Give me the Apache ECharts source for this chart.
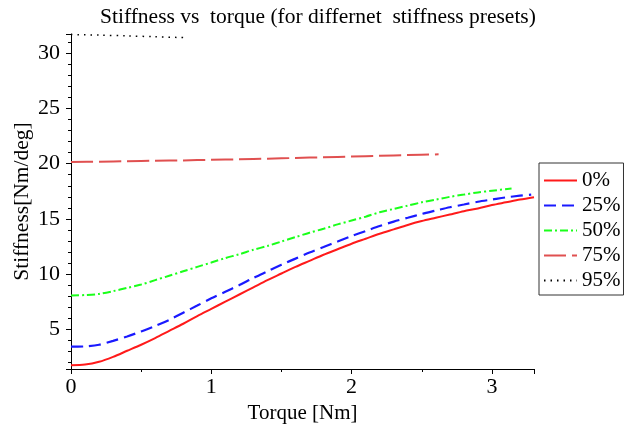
<!DOCTYPE html>
<html>
<head>
<meta charset="utf-8">
<script src="https://cdn.jsdelivr.net/npm/echarts@6/dist/echarts.min.js"></script>
<style>
  html, body { margin: 0; padding: 0; background: #fff; }
  #chart { width: 627px; height: 430px; }
</style>
</head>
<body>
<div id="chart"></div>
<script>
// data
var torque0 = [0, 0.1, 0.2, 0.3, 0.4, 0.5, 0.6, 0.7, 0.8, 0.9, 1.0, 1.1, 1.2, 1.3, 1.4, 1.5, 1.6, 1.7, 1.8, 1.9, 2.0, 2.1, 2.2, 2.3, 2.4, 2.5, 2.6, 2.7, 2.8, 2.9, 3.0, 3.1, 3.2, 3.3];
var stiff0 = [1.75, 1.8, 2.05, 2.5, 3.05, 3.6, 4.2, 4.85, 5.5, 6.2, 6.85, 7.5, 8.15, 8.8, 9.45, 10.05, 10.65, 11.2, 11.75, 12.25, 12.75, 13.2, 13.65, 14.05, 14.45, 14.8, 15.1, 15.4, 15.7, 15.95, 16.25, 16.5, 16.75, 16.97];

var torque25 = [0, 0.1, 0.2, 0.3, 0.4, 0.5, 0.6, 0.7, 0.8, 0.9, 1.0, 1.1, 1.2, 1.3, 1.4, 1.5, 1.6, 1.7, 1.8, 1.9, 2.0, 2.1, 2.2, 2.3, 2.4, 2.5, 2.6, 2.7, 2.8, 2.9, 3.0, 3.1, 3.2, 3.28];
var stiff25 = [3.42, 3.45, 3.6, 3.95, 4.35, 4.8, 5.3, 5.85, 6.5, 7.15, 7.8, 8.4, 9.0, 9.65, 10.25, 10.85, 11.4, 11.95, 12.45, 12.95, 13.45, 13.9, 14.35, 14.75, 15.1, 15.45, 15.75, 16.05, 16.3, 16.55, 16.75, 16.95, 17.1, 17.2];

var torque50 = [0, 0.1, 0.2, 0.3, 0.4, 0.5, 0.6, 0.7, 0.8, 0.9, 1.0, 1.1, 1.2, 1.3, 1.4, 1.5, 1.6, 1.7, 1.8, 1.9, 2.0, 2.1, 2.2, 2.3, 2.4, 2.5, 2.6, 2.7, 2.8, 2.9, 3.0, 3.14];
var stiff50 = [8.06, 8.1, 8.2, 8.45, 8.75, 9.05, 9.45, 9.85, 10.25, 10.65, 11.05, 11.45, 11.8, 12.2, 12.55, 12.95, 13.35, 13.75, 14.1, 14.5, 14.85, 15.2, 15.6, 15.9, 16.2, 16.5, 16.75, 17.0, 17.2, 17.4, 17.55, 17.75];

var torque75 = [0, 0.2, 0.4, 0.6, 0.8, 1.0, 1.2, 1.4, 1.6, 1.8, 2.0, 2.2, 2.4, 2.62];
var stiff75 = [20.15, 20.18, 20.22, 20.27, 20.3, 20.35, 20.4, 20.45, 20.52, 20.58, 20.65, 20.72, 20.78, 20.85];

var torque95 = [0, 0.2, 0.4, 0.6, 0.81];
var stiff95 = [31.7, 31.65, 31.58, 31.5, 31.42];

var presetNames = ["0%", "25%", "50%", "75%", "95%"];

function pairs(xs, ys) {
  return xs.map(function (x, i) { return [x, ys[i]]; });
}

var serif = '"Liberation Serif", "DejaVu Serif", serif';

var chart = echarts.init(document.getElementById("chart"));

function lineSeries(name, data, color, dash, width) {
  return {
    name: name,
    type: "line",
    data: data,
    symbol: "none",
    showSymbol: false,
    smooth: 0.3,
    animation: false,
    lineStyle: { color: color, width: width, type: dash },
    itemStyle: { color: color },
    emphasis: { disabled: true },
  };
}

chart.setOption({
  animation: false,
  title: {
    text: "Stiffness vs  torque (for differnet  stiffness presets)",
    left: 95,
    top: 1,
    textStyle: { fontFamily: serif, fontSize: 21.5, fontWeight: "normal", color: "#000" },
  },
  grid: { left: 71, right: 93, top: 34, bottom: 61, containLabel: false },
  legend: {
    orient: "vertical",
    left: 539,
    top: 163,
    padding: [7, 3, 4, 4],
    borderColor: "#333",
    borderWidth: 1,
    itemWidth: 33,
    itemHeight: 14,
    itemGap: 4,
    data: presetNames,
    itemStyle: { opacity: 0 },
    textStyle: { fontFamily: serif, fontSize: 21, color: "#000", lineHeight: 20 },
  },
  xAxis: {
    type: "value",
    min: 0,
    max: 3.3,
    splitNumber: 3,
    name: "Torque [Nm]",
    nameLocation: "middle",
    nameGap: 33,
    nameTextStyle: { fontFamily: serif, fontSize: 21, color: "#000" },
    axisLine: { lineStyle: { color: "#000", width: 1 } },
    axisTick: { length: 5, lineStyle: { color: "#000" } },
    minorTick: { show: true, splitNumber: 2, length: 3, lineStyle: { color: "#000" } },
    splitLine: { show: false },
    axisLabel: { fontFamily: serif, fontSize: 22, color: "#000", margin: 7, showMaxLabel: false },
  },
  yAxis: {
    type: "value",
    min: 1.4,
    max: 31.75,
    splitNumber: 6,
    name: "Stiffness[Nm/deg]",
    nameLocation: "middle",
    nameGap: 38,
    nameMoveOverlap: false,
    nameTextStyle: { fontFamily: serif, fontSize: 21.5, color: "#000" },
    axisLine: { show: true, lineStyle: { color: "#000", width: 1 } },
    axisTick: { show: true, length: 5, lineStyle: { color: "#000" } },
    minorTick: { show: true, splitNumber: 5, length: 3, lineStyle: { color: "#000" } },
    splitLine: { show: false },
    axisLabel: { fontFamily: serif, fontSize: 22, color: "#000", margin: 11, showMinLabel: false, showMaxLabel: false },
  },
  series: [
    lineSeries("0%", pairs(torque0, stiff0), "#ff1a1a", "solid", 2),
    lineSeries("25%", pairs(torque25, stiff25), "#1a1aff", [12, 6], 2.2),
    lineSeries("50%", pairs(torque50, stiff50), "#1aff1a", [8, 3, 2, 3], 2),
    lineSeries("75%", pairs(torque75, stiff75), "#e05050", [22, 6], 2),
    lineSeries("95%", pairs(torque95, stiff95), "#000000", [1.5, 5], 1.5),
  ],
});
</script>
</body>
</html>
